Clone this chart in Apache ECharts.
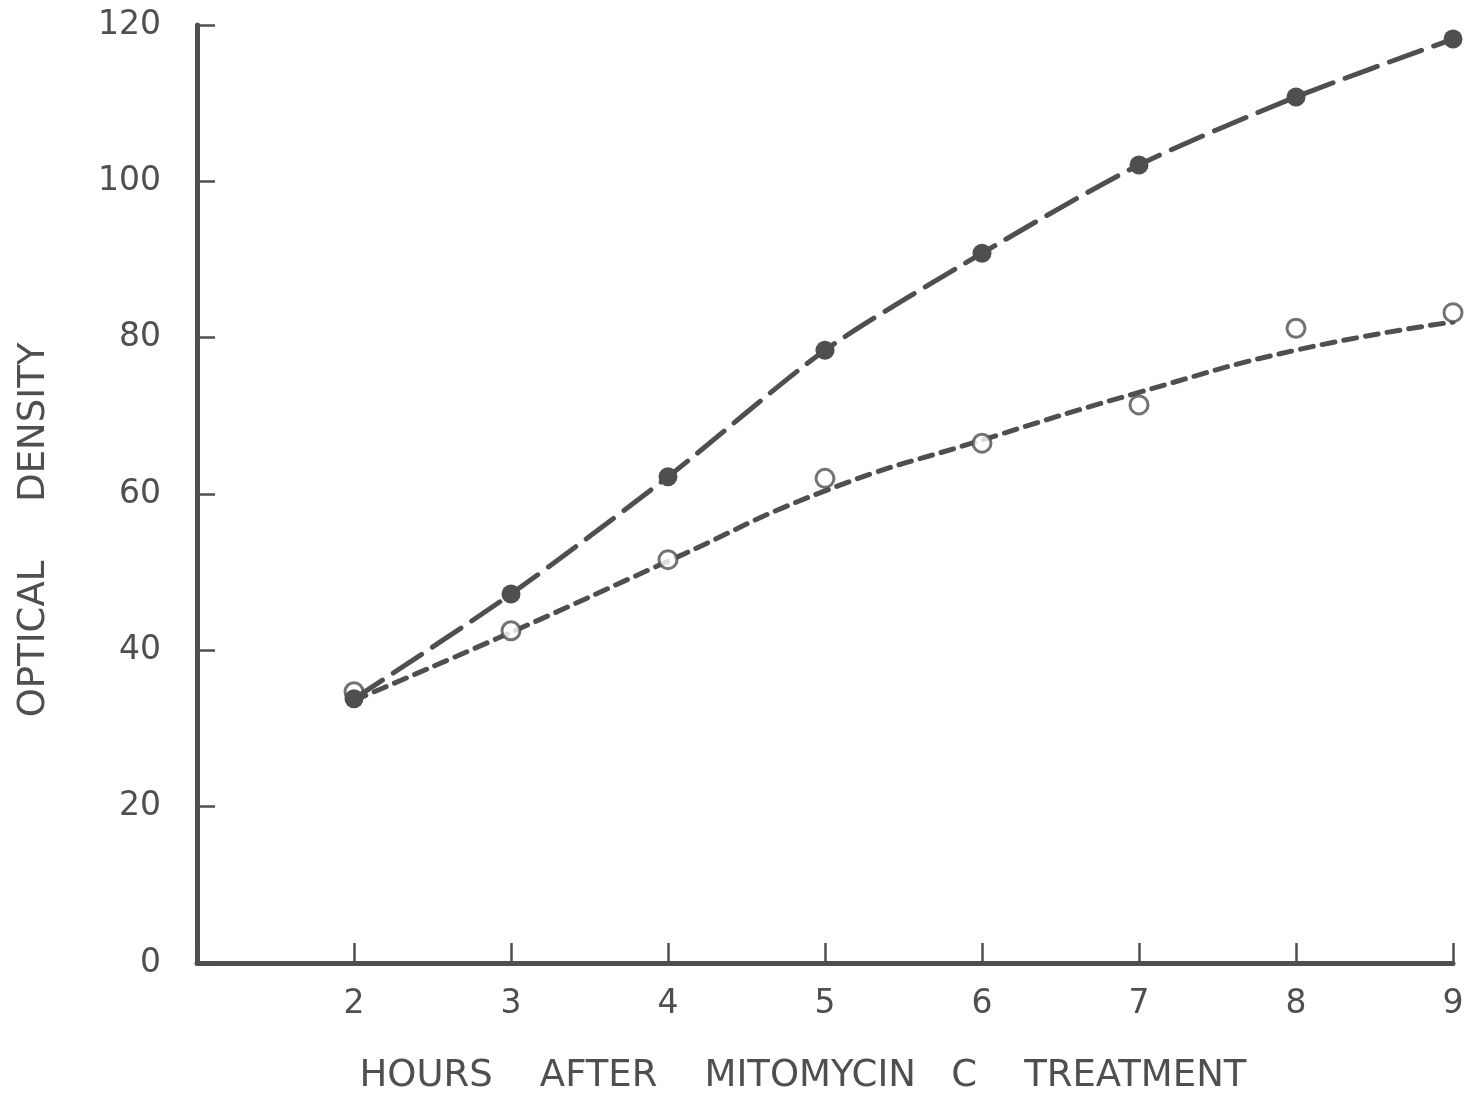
<!DOCTYPE html>
<html>
<head>
<meta charset="utf-8">
<script src="https://cdn.jsdelivr.net/npm/echarts@6/dist/echarts.min.js"></script>
<style>html,body{margin:0;padding:0;background:#fff}#c{width:1467px;height:1095px}</style>
</head>
<body>
<div id="c"></div>
<script>
const hours = [2, 3, 4, 5, 6, 7, 8, 9];
const filledValues = [33.8, 47.2, 62.2, 78.4, 90.8, 102.1, 110.8, 118.2];
const openValues = [34.7, 42.5, 51.6, 62.0, 66.5, 71.4, 81.2, 83.2];
const openCurve = [33.6, 42.3, 51.4, 60.4, 66.9, 73.0, 78.4, 82.0];
const yTicks = [0, 20, 40, 60, 80, 100, 120];
const xTitle = 'HOURS    AFTER    MITOMYCIN   C    TREATMENT';
const yTitle = 'OPTICAL     DENSITY';

const ink = '#4f4f4f';
const font = 'DejaVu Sans';
const pair = (xs, ys) => xs.map((x, i) => [x, ys[i]]);

const chart = echarts.init(document.getElementById('c'), null, {renderer: 'canvas'});
chart.setOption({
  backgroundColor: '#ffffff',
  animation: false,
  grid: {left: 197, right: 14, top: 25, bottom: 132, containLabel: false, outerBoundsMode: 'none'},
  xAxis: {
    type: 'value', min: 1, max: 9, interval: 1,
    axisLine: {show: true, onZero: false, lineStyle: {color: ink, width: 5}},
    axisTick: {show: true, inside: true, length: 20, lineStyle: {color: ink, width: 2.5}},
    splitLine: {show: false},
    axisLabel: {
      color: ink, fontFamily: font, fontSize: 33, margin: 25,
      formatter: v => (v >= 2 ? String(v) : '')
    },
    name: xTitle, nameLocation: 'middle', nameGap: 95,
    nameTextStyle: {color: ink, fontFamily: font, fontSize: 37, padding: [0, 44, 0, 0]}
  },
  yAxis: {
    type: 'value', min: 0, max: 120, interval: 20,
    axisLine: {show: true, onZero: false, lineStyle: {color: ink, width: 5}},
    axisTick: {show: true, inside: true, length: 18, lineStyle: {color: ink, width: 2.5}},
    splitLine: {show: false},
    axisLabel: {
      color: ink, fontFamily: font, fontSize: 33, margin: 36,
      formatter: v => (yTicks.includes(v) ? String(v) : '')
    },
    name: yTitle, nameLocation: 'middle', nameGap: 144, nameRotate: 90,
    nameTextStyle: {color: ink, fontFamily: font, fontSize: 37, padding: [0, 72, 0, 0]}
  },
  series: [
    {
      name: 'open curve', type: 'line', data: pair(hours, openCurve),
      smooth: 0.5, showSymbol: false, symbol: 'none', z: 2,
      lineStyle: {color: ink, width: 5, type: [13, 9], cap: 'round'}
    },
    {
      name: 'open', type: 'scatter', data: pair(hours, openValues),
      symbol: 'circle', symbolSize: 18, z: 4,
      itemStyle: {color: '#ffffff', borderColor: ink, borderWidth: 3}
    },
    {
      name: 'filled', type: 'line', data: pair(hours, filledValues),
      smooth: 0.25, symbol: 'circle', symbolSize: 19, showSymbol: true, z: 5,
      lineStyle: {color: ink, width: 5, type: [34, 13], cap: 'round'},
      itemStyle: {color: ink, borderColor: ink, borderWidth: 0}
    }
  ]
});
</script>
</body>
</html>
